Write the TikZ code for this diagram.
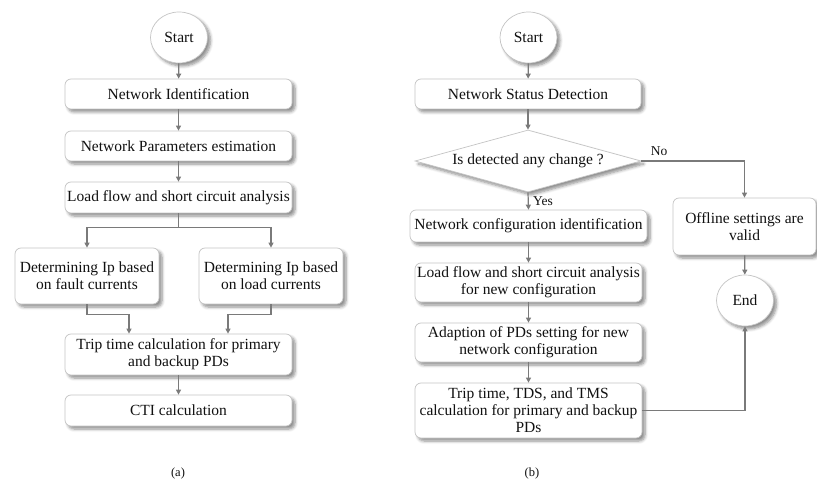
\documentclass[tikz,border=0pt]{standalone}
\usepackage{fontspec}
\setmainfont{Liberation Serif}
\usetikzlibrary{shapes.geometric,arrows.meta,shadows.blur}
\definecolor{boxline}{HTML}{C4C4C4}
\definecolor{arrgray}{HTML}{7A7A7A}
\definecolor{txt}{HTML}{111111}
\begin{document}
\begin{tikzpicture}[x=1pt,y=-1pt,
  every node/.style={text=txt,font=\fontsize{15.5}{17}\selectfont},
  shad/.style={blur shadow={shadow blur steps=6,shadow xshift=3pt,shadow yshift=-3pt,shadow opacity=45,shadow blur radius=3pt}},
  procbox/.style={draw=boxline,line width=0.7pt,fill=white,rounded corners=6pt,align=center,inner sep=1pt,shad},
  termnode/.style={draw=boxline,line width=0.7pt,fill=white,ellipse,minimum width=57pt,minimum height=51pt,inner sep=0pt,shad},
  decnode/.style={draw=boxline,line width=0.7pt,fill=white,diamond,aspect=3.65,minimum width=226pt,minimum height=62pt,inner sep=0pt,shad},
  conn/.style={draw=arrgray,line width=1.2pt},
  arr/.style={conn,-{Triangle[width=5pt,length=5pt]}},
  caplabel/.style={font=\fontsize{12.5}{14}\selectfont},
  small/.style={font=\fontsize{13.5}{15}\selectfont}
]
\useasboundingbox (0,0) rectangle (817,481);
% ---------- (a) ----------
\node[termnode] (sa) at (179,37.5) {Start};
\node[procbox,minimum width=227pt,minimum height=30pt] (ni) at (178.5,94) {Network Identification};
\node[procbox,minimum width=227pt,minimum height=30pt] (npe) at (178.5,146) {Network Parameters estimation};
\node[procbox,minimum width=227pt,minimum height=31pt] (lf) at (178.5,197.5) {Load flow and short circuit analysis};
\node[procbox,minimum width=144pt,minimum height=56pt] (dfc) at (87,276) {Determining Ip based\\on fault currents};
\node[procbox,minimum width=144pt,minimum height=56pt] (dlc) at (271,276) {Determining Ip based\\on load currents};
\node[procbox,minimum width=227pt,minimum height=41pt] (tr) at (178.5,354.5) {Trip time calculation for primary\\and backup PDs};
\node[procbox,minimum width=227pt,minimum height=31pt] (cti) at (178.5,410.5) {CTI calculation};
\node[caplabel] (la) at (178,473) {(a)};

\draw[arr] (sa) -- (ni);
\draw[arr] (ni) -- (npe);
\draw[arr] (npe) -- (lf);
\draw[conn] (lf.south) -- ++(0,14) coordinate (split);
\draw[arr] (split) -| (dfc.north);
\draw[arr] (split) -| (dlc.north);
\draw[arr] (dfc.south) -- ++(0,10) -| ([xshift=-49.5pt]tr.north);
\draw[arr] (dlc.south) -- ++(0,10) -| ([xshift=49.5pt]tr.north);
\draw[arr] (tr) -- (cti);

% ---------- (b) ----------
\node[termnode] (sb) at (528.5,37.5) {Start};
\node[procbox,minimum width=226pt,minimum height=30pt] (nsd) at (528,94) {Network Status Detection};
\node[decnode] (dia) at (528,161) {Is detected any change ?};
\node[procbox,minimum width=237pt,minimum height=32pt] (nci) at (528.5,226) {Network configuration identification};
\node[procbox,minimum width=227pt,minimum height=39pt] (lfn) at (528.5,282.5) {Load flow and short circuit analysis\\for new configuration};
\node[procbox,minimum width=227pt,minimum height=39pt] (adp) at (528.5,342.5) {Adaption of PDs setting for new\\network configuration};
\node[procbox,minimum width=227pt,minimum height=55pt] (tr2) at (528.5,410.5) {Trip time, TDS, and TMS\\calculation for primary and backup\\PDs};
\node[procbox,minimum width=143pt,minimum height=57pt] (off) at (744.5,226.5) {Offline settings are\\valid};
\node[termnode] (en) at (745,300.5) {End};
\node[caplabel] (lb) at (532,473) {(b)};

\draw[arr] (sb) -- (nsd);
\draw[arr] (nsd) -- (dia);
\draw[arr] (dia.south) -- (nci.north) node[small,midway,anchor=west,xshift=1pt] (yes) {Yes};
\draw[arr] (dia.east) -| (off.north);
\node[small] (no) at (659,151) {No};
\draw[arr] (off) -- (en);
\draw[arr] (nci) -- (lfn);
\draw[arr] (lfn) -- (adp);
\draw[arr] (adp) -- (tr2);
\draw[arr] (tr2.east) -| (en.south);
\end{tikzpicture}
\end{document}
